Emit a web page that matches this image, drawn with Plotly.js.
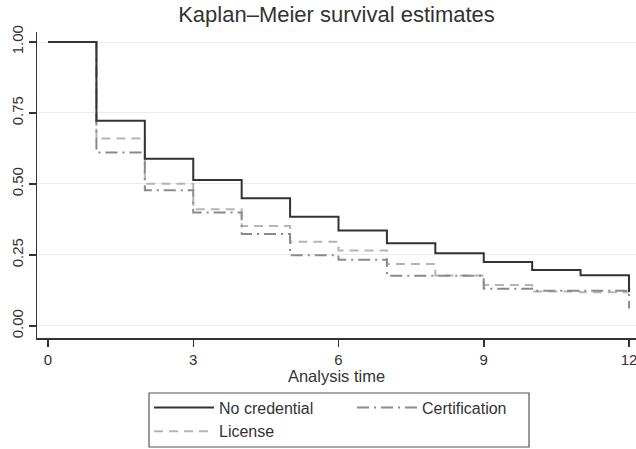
<!DOCTYPE html>
<html>
<head>
<meta charset="utf-8">
<script src="https://cdn.plot.ly/plotly-3.0.1.min.js"></script>
<style>html,body{margin:0;padding:0;background:#fff;}#chart{width:636px;height:449px;}</style>
</head>
<body>
<div id="chart"></div>
<script>
const time = [0, 1, 2, 3, 4, 5, 6, 7, 8, 9, 10, 11, 12];
const noCredential = [1.00, 0.723, 0.589, 0.514, 0.450, 0.385, 0.336, 0.291, 0.256, 0.225, 0.197, 0.179, 0.120];
const certification = [1.00, 0.611, 0.478, 0.400, 0.324, 0.249, 0.233, 0.177, 0.177, 0.131, 0.124, 0.124, 0.062];
const license = [1.00, 0.660, 0.501, 0.411, 0.352, 0.297, 0.266, 0.218, 0.178, 0.144, 0.121, 0.119, 0.119];
const yTicks = [0, 0.25, 0.5, 0.75, 1];
const yTickText = ['0.00', '0.25', '0.50', '0.75', '1.00'];
const xTicks = [0, 3, 6, 9, 12];

const font = 'Liberation Sans, Arial, sans-serif';
const traces = [
  {x: time, y: license, name: 'License', type: 'scatter', mode: 'lines',
   line: {shape: 'hv', color: '#b5b5b5', width: 2, dash: '9px,6px'}, legendrank: 3},
  {x: time, y: certification, name: 'Certification', type: 'scatter', mode: 'lines',
   line: {shape: 'hv', color: '#8a8a8a', width: 2, dash: '12px,5px,2px,5px'}, legendrank: 2},
  {x: time, y: noCredential, name: 'No credential', type: 'scatter', mode: 'lines',
   line: {shape: 'hv', color: '#333333', width: 2}, legendrank: 1}
];

const layout = {
  width: 636, height: 449,
  margin: {l: 37, r: 0, t: 32, b: 111, autoexpand: false},
  paper_bgcolor: '#ffffff', plot_bgcolor: '#ffffff',
  font: {family: font, color: '#333333', size: 15},
  title: {text: 'Kaplan–Meier survival estimates', x: 0.5, xref: 'paper', xanchor: 'center',
          y: 0.985, yref: 'container', yanchor: 'top', font: {size: 22, color: '#333333', family: font}},
  xaxis: {
    range: [-0.2272, 12.1446], tickvals: xTicks, ticktext: xTicks.map(String),
    ticks: 'outside', ticklen: 7, tickwidth: 1.5, tickcolor: '#333333',
    showgrid: false, zeroline: false, showline: true, linecolor: '#333333', linewidth: 1.5,
    tickfont: {size: 15, color: '#333333'}, ticklabeloverflow: 'allow',
    title: {text: 'Analysis time', font: {size: 16.5, color: '#333333'}, standoff: 2}
  },
  yaxis: {
    range: [-0.0423, 1.0352], tickvals: yTicks, ticktext: yTickText, tickangle: -90,
    ticks: 'outside', ticklen: 7, tickwidth: 1.5, tickcolor: '#333333',
    showgrid: true, gridcolor: '#ececec', gridwidth: 1, zeroline: false,
    showline: true, linecolor: '#333333', linewidth: 1.5,
    tickfont: {size: 15, color: '#333333'}
  },
  showlegend: true,
  legend: {
    orientation: 'h', x: 0.5259, xanchor: 'center', y: -0.1716, yanchor: 'top',
    borderwidth: 0, bgcolor: 'rgba(0,0,0,0)',
    font: {size: 16, color: '#333333'}, entrywidth: 128, itemwidth: 60,
    traceorder: 'normal'
  },
  shapes: [
    {type: 'rect', xref: 'paper', yref: 'paper', x0: 0.187, x1: 0.8214, y0: -0.1797, y1: -0.3562,
     line: {color: '#555555', width: 1.2}, fillcolor: 'rgba(0,0,0,0)', layer: 'above'}
  ]
};

Plotly.newPlot('chart', traces, layout, {displayModeBar: false, staticPlot: true});
</script>
</body>
</html>
